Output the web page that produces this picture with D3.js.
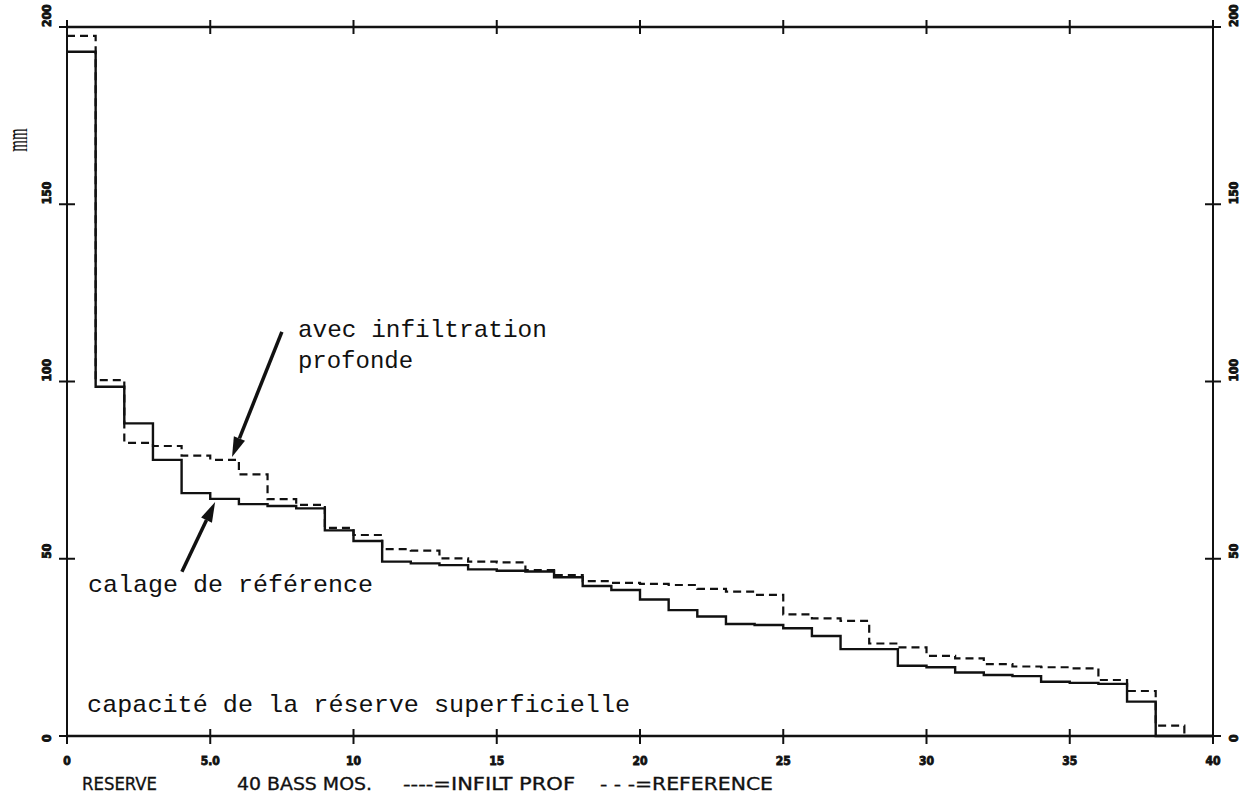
<!DOCTYPE html>
<html>
<head>
<meta charset="utf-8">
<script src="https://cdn.jsdelivr.net/npm/d3@7"></script>
<style>
  html, body { margin: 0; padding: 0; background: #fff; }
  svg { display: block; }
</style>
</head>
<body>
<svg id="chart" width="1251" height="807"></svg>
<script>
// ---- data ----
const xTicks = [0, 5, 10, 15, 20, 25, 30, 35, 40];
const xTickLabels = ["0", "5.0", "10", "15", "20", "25", "30", "35", "40"];
const yTicks = [0, 50, 100, 150, 200];
const yTickLabels = ["0", "50", "100", "150", "200"];
// values per unit interval [i, i+1], i = 0..39
const infiltProf = [193, 98.5, 88.2, 77.9, 68.5, 66.9, 65.4, 64.9, 64.2, 58.0,
  55.0, 49.2, 48.7, 48.2, 47.0, 46.6, 46.4, 44.8, 42.3, 41.2,
  38.5, 35.5, 33.7, 31.6, 31.3, 30.4, 28.2, 24.5, 24.5, 19.8,
  19.4, 17.9, 17.2, 16.9, 15.3, 15.0, 14.7, 9.7, 0, 0];
const reference = [197.5, 100.4, 82.7, 81.8, 79.1, 77.9, 73.8, 66.8, 65.2, 58.7,
  56.7, 52.7, 52.3, 50.1, 49.2, 49.0, 46.8, 45.4, 43.7, 43.2,
  42.9, 42.6, 41.5, 40.7, 39.8, 34.3, 33.2, 32.5, 26.1, 25.0,
  22.6, 21.9, 20.3, 19.6, 19.4, 19.1, 15.8, 12.7, 2.9, 0];
const legendTexts = ["RESERVE", "40 BASS MOS.", "----=INFILT PROF", "- - -=REFERENCE"];
const annotations = [
  { text: "avec infiltration", x: 8.06, y: 112.6, len: 249 },
  { text: "profonde", x: 8.06, y: 103.8, len: null },
  { text: "calage de référence", x: 0.73, y: 40.6, len: 285 },
  { text: "capacité de la réserve superficielle", x: 0.70, y: 6.8, len: 543 }
];
const arrows = [
  { from: [7.5, 114], to: [5.76, 78.7] },
  { from: [4.01, 46.3], to: [5.17, 66.0] }
];

// ---- layout ----
const svg = d3.select("#chart");
const x = d3.scaleLinear().domain([0, 40]).range([67, 1213]);
const y = d3.scaleLinear().domain([0, 200]).range([736, 27]);
const ink = "#111";

// frame
const frame = svg.append("g").attr("stroke", ink).attr("stroke-width", 2.6).attr("fill", "none");
frame.append("line").attr("x1", x(0)).attr("x2", x(40)).attr("y1", y(0)).attr("y2", y(0));
frame.append("line").attr("x1", x(0)).attr("x2", x(40)).attr("y1", y(200)).attr("y2", y(200));
frame.append("line").attr("x1", x(0)).attr("x2", x(0)).attr("y1", y(0)).attr("y2", y(200)).attr("stroke-width", 2);
frame.append("line").attr("x1", x(40)).attr("x2", x(40)).attr("y1", y(0)).attr("y2", y(200)).attr("stroke-width", 2);

// ticks
const tickG = svg.append("g").attr("stroke", ink).attr("stroke-width", 2);
xTicks.forEach(t => {
  tickG.append("line").attr("x1", x(t)).attr("x2", x(t)).attr("y1", y(0) - 7).attr("y2", y(0) + 8);
  tickG.append("line").attr("x1", x(t)).attr("x2", x(t)).attr("y1", y(200) - 7).attr("y2", y(200) + 7);
});
yTicks.forEach(t => {
  tickG.append("line").attr("x1", x(0) - 8).attr("x2", x(0) + 8).attr("y1", y(t)).attr("y2", y(t));
  tickG.append("line").attr("x1", x(40) - 8).attr("x2", x(40) + 8).attr("y1", y(t)).attr("y2", y(t));
});

// tick labels
const tickFont = "'DejaVu Sans Condensed', 'DejaVu Sans', sans-serif";
svg.append("g").selectAll("text").data(xTicks).join("text")
  .attr("x", d => x(d)).attr("y", y(0) + 29)
  .attr("text-anchor", "middle")
  .attr("font-family", tickFont).attr("font-weight", "bold").attr("font-size", 12)
  .attr("fill", ink).attr("stroke", ink).attr("stroke-width", 0.8)
  .text((d, i) => xTickLabels[i]);

[[x(0) - 16], [x(40) + 25]].forEach(([lx]) => {
  svg.append("g").selectAll("text").data(yTicks).join("text")
    .attr("transform", d => `translate(${lx},${d === 0 ? y(d) + 6 : y(d)}) rotate(-90)`)
    .attr("text-anchor", "start")
    .attr("font-family", tickFont).attr("font-weight", "bold").attr("font-size", 12)
    .attr("fill", ink).attr("stroke", ink).attr("stroke-width", 0.8)
    .text((d, i) => yTickLabels[i]);
});

// y unit label
svg.append("text")
  .attr("transform", `translate(27,140) rotate(-90) scale(0.5,1)`)
  .attr("text-anchor", "middle")
  .attr("font-family", "'Liberation Serif', 'DejaVu Serif', serif")
  .attr("font-size", 30)
  .attr("fill", ink)
  .text("mm");

// step lines
const stepPts = vals => vals.map((v, i) => [i, v]).concat([[40, vals[vals.length - 1]]]);
const line = d3.line().x(d => x(d[0])).y(d => y(d[1])).curve(d3.curveStepAfter);

svg.append("path").datum(stepPts(reference))
  .attr("d", line).attr("fill", "none").attr("stroke", ink)
  .attr("stroke-width", 2.2).attr("stroke-dasharray", "8,5");

svg.append("path").datum(stepPts(infiltProf))
  .attr("d", line).attr("fill", "none").attr("stroke", ink)
  .attr("stroke-width", 2.4);

// annotations
const annoFont = "'Liberation Mono', 'Courier New', monospace";
annotations.forEach(a => {
  const t = svg.append("text")
    .attr("x", x(a.x)).attr("y", y(a.y))
    .attr("font-family", annoFont).attr("font-size", 24)
    .attr("fill", ink)
    .text(a.text);
  if (a.len) t.attr("textLength", a.len).attr("lengthAdjust", "spacingAndGlyphs");
});

// arrows
arrows.forEach(a => {
  const x1 = x(a.from[0]), y1 = y(a.from[1]), x2 = x(a.to[0]), y2 = y(a.to[1]);
  const ang = Math.atan2(y2 - y1, x2 - x1);
  const L = 20, W = 6;
  const bx = x2 - L * Math.cos(ang), by = y2 - L * Math.sin(ang);
  svg.append("line").attr("x1", x1).attr("y1", y1).attr("x2", bx).attr("y2", by)
    .attr("stroke", ink).attr("stroke-width", 3.5);
  const px = -Math.sin(ang) * W, py = Math.cos(ang) * W;
  svg.append("path")
    .attr("d", `M${x2},${y2} L${bx + px},${by + py} L${bx - px},${by - py} Z`)
    .attr("fill", ink);
});

// legend line
const legendPos = [[82, 75], [237, 135], [403, 172], [600, 173]];
legendTexts.forEach((t, i) => {
  svg.append("text")
    .attr("x", legendPos[i][0]).attr("y", 790)
    .attr("font-family", tickFont).attr("font-size", 17)
    .attr("textLength", legendPos[i][1]).attr("lengthAdjust", "spacingAndGlyphs")
    .attr("fill", ink).attr("stroke", ink).attr("stroke-width", 0.3)
    .text(t);
});
</script>
</body>
</html>
